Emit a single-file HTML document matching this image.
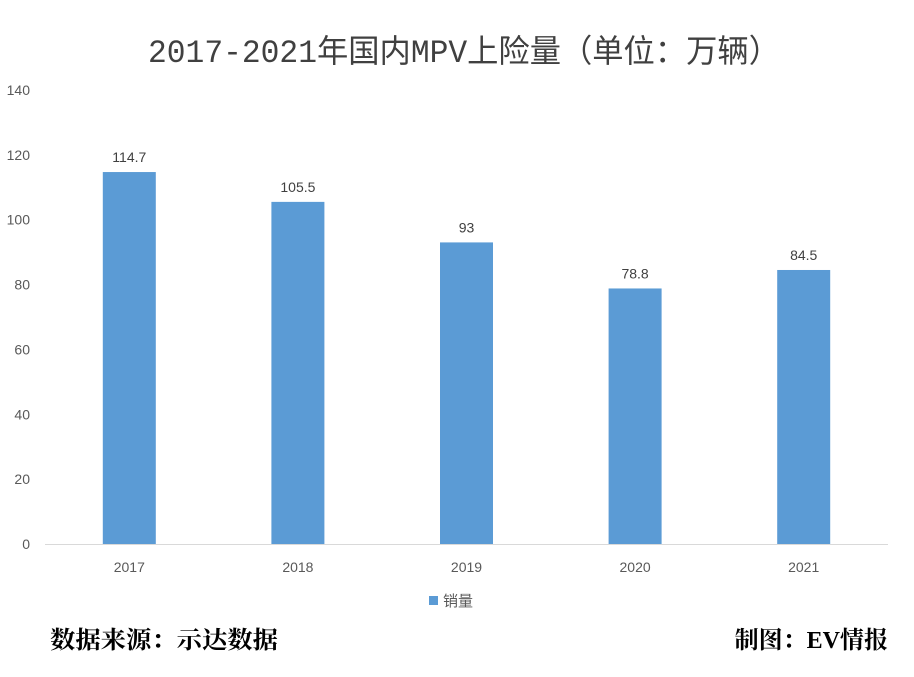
<!DOCTYPE html>
<html><head><meta charset="utf-8"><style>
body{margin:0;background:#fff;}
svg{display:block;}
</style></head><body>
<svg width="914" height="677" xmlns="http://www.w3.org/2000/svg" id="chart">
<text x="464" y="62" text-anchor="middle" font-family="'Liberation Mono','Noto Sans CJK SC',sans-serif" font-size="32" fill="#404040" textLength="632" lengthAdjust="spacingAndGlyphs">2017-2021年国内MPV上险量（单位：万辆）</text>
<g id="yaxis"></g>
<g id="bars"></g>
<g id="xaxis"></g>
<g>
<rect x="429" y="596" width="9" height="9" fill="#5b9bd5"/>
<text x="443" y="606" font-family="'Liberation Sans','Noto Sans CJK SC',sans-serif" font-size="15" fill="#595959">销量</text>
</g>
<text x="50" y="648" font-family="'Liberation Serif','Noto Serif CJK SC',serif" font-size="24" font-weight="bold" fill="#000" textLength="228" lengthAdjust="spacingAndGlyphs">数据来源：示达数据</text>
<text x="888" y="648" text-anchor="end" font-family="'Liberation Serif','Noto Serif CJK SC',serif" font-size="24" font-weight="bold" fill="#000">制图：EV情报</text>
</svg>
<script>
const categories=["2017","2018","2019","2020","2021"];
const values=[114.7,105.5,93,78.8,84.5];
const valueLabels=["114.7","105.5","93","78.8","84.5"];
const yTicks=[0,20,40,60,80,100,120,140];
const NS="http://www.w3.org/2000/svg";
const x0=45,x1=888,y0=544,yTop=90,yMax=140;
const yS=v=>y0-(y0-yTop)*v/yMax;
const bw=(x1-x0)/categories.length;
const xC=i=>x0+bw*(i+0.5);
function mk(t,a,p){const e=document.createElementNS(NS,t);for(const k in a)e.setAttribute(k,a[k]);p.appendChild(e);return e;}
const ya=document.getElementById('yaxis'),ba=document.getElementById('bars'),xa=document.getElementById('xaxis');
yTicks.forEach(v=>{const t=mk('text',{x:30,y:yS(v)+5,'text-anchor':'end','font-family':'Liberation Sans,sans-serif','font-size':14,fill:'#595959'},ya);t.textContent=v;

});
const ax=mk('line',{x1:x0,x2:x1,y1:y0+0.5,y2:y0+0.5,stroke:'#d9d9d9'},xa);


categories.forEach((c,i)=>{
const r=mk('rect',{x:xC(i)-26.5,y:yS(values[i]),width:53,height:y0-yS(values[i]),fill:'#5b9bd5'},ba);


const l=mk('text',{x:xC(i),y:yS(values[i])-10,'text-anchor':'middle','font-family':'Liberation Sans,sans-serif','font-size':14,fill:'#404040'},ba);l.textContent=valueLabels[i];


const t=mk('text',{x:xC(i),y:572,'text-anchor':'middle','font-family':'Liberation Sans,sans-serif','font-size':14,fill:'#595959'},xa);t.textContent=c;


});
</script>
</body></html>
